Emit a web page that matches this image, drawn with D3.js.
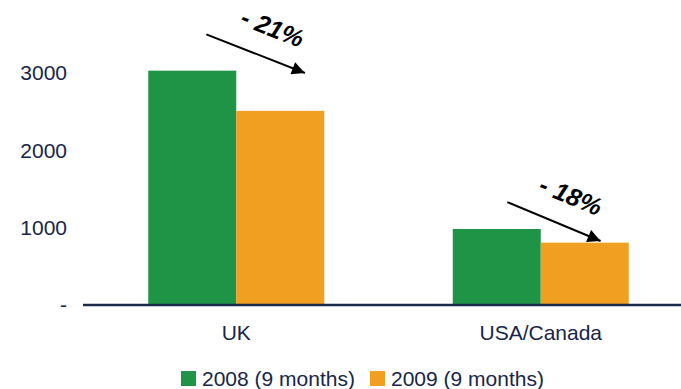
<!DOCTYPE html>
<html>
<head>
<meta charset="utf-8">
<script src="https://cdn.jsdelivr.net/npm/d3@7"></script>
<style>
  html, body { margin: 0; padding: 0; background: #fff; }
  svg { display: block; font-family: "Liberation Sans", Arial, sans-serif; }
</style>
</head>
<body>
<div id="chart"></div>
<script>
// Regions and series
const categories = ["UK", "USA/Canada"];
const seriesNames = ["2008 (9 months)", "2009 (9 months)"];
const values2008 = [3030, 983];
const values2009 = [2510, 806];
const yTicks = [0, 1000, 2000, 3000];
const yTickLabels = ["-", "1000", "2000", "3000"];
const colors = ["#1f9447", "#f09f20"];

// Change annotations: arrow endpoints given as (fraction across group, value)
const changeLabels = ["- 21%", "- 18%"];
const arrowFrom = [[0.33, 3500], [0.31, 1330]];
const arrowTo = [[0.89, 3000], [0.84, 828]];

const W = 681, H = 389;
const svg = d3.select("#chart").append("svg").attr("width", W).attr("height", H);

const y = d3.scaleLinear().domain([0, 3000]).range([305, 73]);
const x0 = d3.scaleBand().domain(categories).range([84, 693]).paddingInner(0.422).paddingOuter(0.211);
const x1 = d3.scaleBand().domain(seriesNames).range([0, x0.bandwidth()]);

const textColor = "#172648";

// Bars
const rows = categories.map((c, i) => ({ cat: c, vals: [values2008[i], values2009[i]] }));
const groups = svg.append("g").selectAll("g").data(rows).join("g")
  .attr("transform", d => `translate(${x0(d.cat)},0)`);
groups.selectAll("rect")
  .data(d => d.vals.map((v, j) => ({ key: seriesNames[j], v, j })))
  .join("rect")
  .attr("x", d => x1(d.key))
  .attr("width", x1.bandwidth())
  .attr("y", d => y(d.v))
  .attr("height", d => y(0) - y(d.v))
  .attr("fill", d => colors[d.j]);

// Baseline
svg.append("line")
  .attr("x1", 83).attr("x2", W)
  .attr("y1", y(0)).attr("y2", y(0))
  .attr("stroke", "#1b2a48").attr("stroke-width", 2.5);

// Y axis labels
const yAxis = d3.axisLeft(y).tickValues(yTicks)
  .tickFormat((d, i) => yTickLabels[i]).tickSize(0).tickPadding(0);
const ya = svg.append("g").attr("transform", "translate(67,0)").call(yAxis);
ya.select(".domain").remove();
ya.selectAll("text")
  .attr("font-family", "'Liberation Sans', Arial, sans-serif")
  .attr("font-size", 21).attr("fill", textColor);

// Category labels
const xAxis = d3.axisBottom(x0).tickSize(0).tickPadding(0);
const xa = svg.append("g").attr("transform", "translate(0,325)").call(xAxis);
xa.select(".domain").remove();
xa.selectAll("text")
  .attr("font-family", "'Liberation Sans', Arial, sans-serif")
  .attr("font-size", 21).attr("fill", textColor);

// Change arrows
const defs = svg.append("defs");
defs.append("marker").attr("id", "head")
  .attr("viewBox", "0 0 10 10").attr("refX", 10).attr("refY", 5)
  .attr("markerWidth", 16).attr("markerHeight", 13)
  .attr("markerUnits", "userSpaceOnUse").attr("orient", "auto")
  .append("path").attr("d", "M0,0 L10,5 L0,10 Z").attr("fill", "#000");

categories.forEach((c, i) => {
  const gx = x0(c), bw = x0.bandwidth();
  const xa1 = gx + arrowFrom[i][0] * bw, ya1 = y(arrowFrom[i][1]);
  const xa2 = gx + arrowTo[i][0] * bw, ya2 = y(arrowTo[i][1]);
  svg.append("line")
    .attr("x1", xa1).attr("y1", ya1).attr("x2", xa2).attr("y2", ya2)
    .attr("stroke", "#000").attr("stroke-width", 2)
    .attr("marker-end", "url(#head)");
  const ang = Math.atan2(ya2 - ya1, xa2 - xa1) * 180 / Math.PI;
  const mx = (xa1 + xa2) / 2 + 17, my = (ya1 + ya2) / 2 - 26;
  svg.append("text")
    .attr("transform", `translate(${mx},${my}) rotate(${ang})`)
    .attr("text-anchor", "middle").attr("dominant-baseline", "central")
    .attr("font-family", "'Liberation Sans', Arial, sans-serif")
    .attr("font-size", 25).attr("font-weight", "bold").attr("font-style", "italic")
    .attr("fill", "#000")
    .text(changeLabels[i]);
});

// Legend
const legend = svg.append("g").attr("transform", "translate(181,378)");
const legX = [0, 189];
seriesNames.forEach((s, i) => {
  const g = legend.append("g").attr("transform", `translate(${legX[i]},0)`);
  g.append("rect").attr("x", 0).attr("y", -7).attr("width", 15).attr("height", 15).attr("fill", colors[i]);
  g.append("text").attr("x", 21).attr("y", 0).attr("dominant-baseline", "central")
    .attr("font-family", "'Liberation Sans', Arial, sans-serif")
    .attr("font-size", 21).attr("fill", textColor).text(s);
});
</script>
</body>
</html>
